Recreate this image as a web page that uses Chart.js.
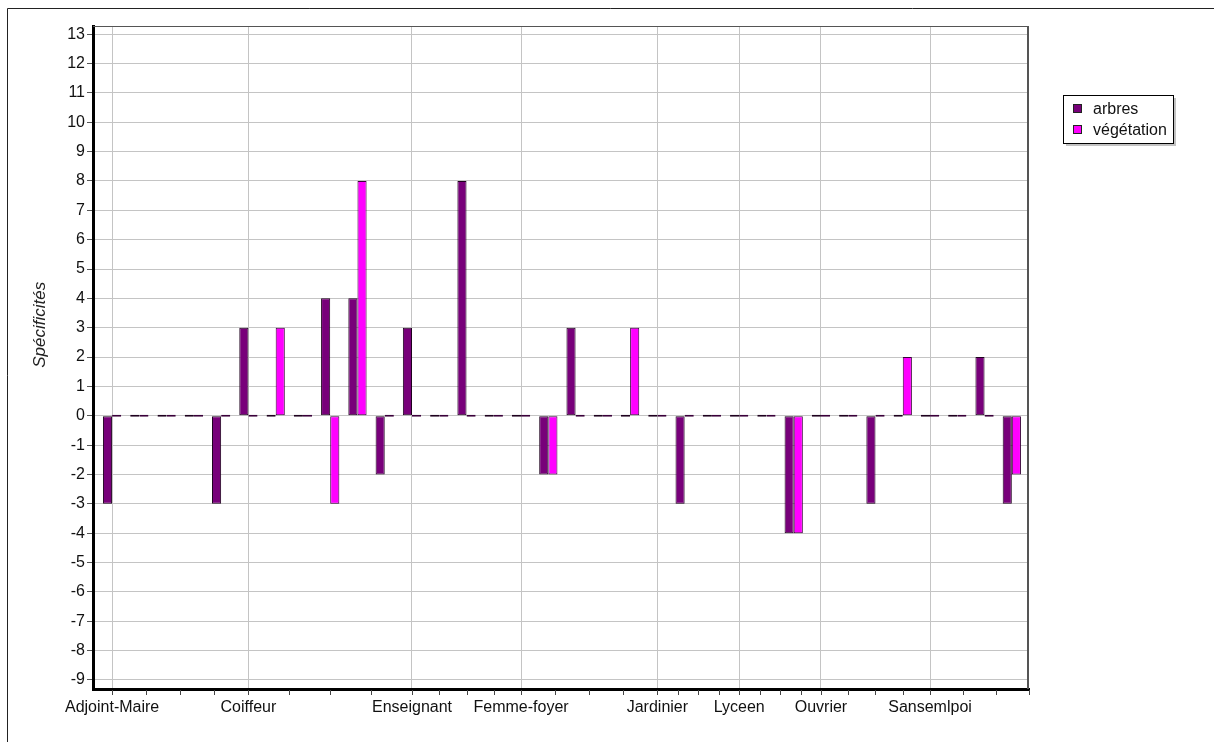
<!DOCTYPE html>
<html><head><meta charset="utf-8">
<script src="https://cdn.jsdelivr.net/npm/chart.js@4/dist/chart.umd.min.js"></script>
<style>html,body{margin:0;padding:0;background:#fff;}#wrap{position:relative;width:1214px;height:742px;}</style>
</head><body><div id="wrap"><canvas id="c" width="1214" height="742"></canvas></div>
<script>
const categories = ['Adjoint-Maire','','','','','Coiffeur','','','','','','Enseignant','','','','Femme-foyer','','','','','Jardinier','','','Lyceen','','','Ouvrier','','','','Sansemlpoi','','',''];
const arbres = [-3,0,0,0,-3,3,0,0,4,4,-2,3,0,8,0,0,-2,3,0,0,0,-3,0,0,0,-4,0,0,-3,0,0,0,2,-3];
const vegetation = [0,0,0,0,0,0,3,0,-3,8,0,0,0,0,0,0,-2,0,0,3,0,0,0,0,0,-4,0,0,0,2,0,0,0,-2];
const yTicks = [-9,-8,-7,-6,-5,-4,-3,-2,-1,0,1,2,3,4,5,6,7,8,9,10,11,12,13];
const seriesNames = ['arbres','végétation'];
const seriesColors = ['#78007a','#ff00ff'];
const yTitle = 'Spécificités';

const FONT = "'Liberation Sans', Arial, sans-serif";
const labeledIdx = categories.map((c,i)=>c? i : -1).filter(i=>i>=0);

const framePlugin = {
  id:'frame',
  beforeDraw(chart){
    const ctx = chart.ctx;
    ctx.save();
    ctx.strokeStyle = '#222'; ctx.lineWidth = 1;
    ctx.beginPath(); ctx.moveTo(7.5, 742); ctx.lineTo(7.5, 8.5); ctx.lineTo(1214, 8.5); ctx.stroke();
    ctx.restore();
  },
  afterDraw(chart){
    const ctx = chart.ctx, a = chart.chartArea, xs = chart.scales.x;
    ctx.save();
    ctx.strokeStyle = '#555'; ctx.lineWidth = 1;
    ctx.beginPath(); ctx.moveTo(a.left, a.top+0.5); ctx.lineTo(a.right, a.top+0.5); ctx.stroke();
    ctx.lineWidth = 2;
    ctx.beginPath(); ctx.moveTo(a.right-1, a.top); ctx.lineTo(a.right-1, a.bottom); ctx.stroke();
    const pos = labeledIdx.map(i=>xs.getPixelForValue(i));
    const marks = [];
    for (let k=0;k<pos.length-1;k++){ for (let q=0;q<4;q++) marks.push(pos[k]+(pos[k+1]-pos[k])*q/4); }
    const last = pos[pos.length-1];
    for (let q=0;q<=3;q++) marks.push(last+(a.right-last)*q/3);
    ctx.strokeStyle = '#444'; ctx.lineWidth = 1;
    marks.forEach(m=>{ const x=Math.round(m)+0.5; ctx.beginPath(); ctx.moveTo(x, a.bottom+1); ctx.lineTo(x, a.bottom+6); ctx.stroke(); });
    ctx.fillStyle = '#222'; ctx.font = 'italic 17px ' + FONT;
    ctx.translate(40, chart.scales.y.getPixelForValue(3.1));
    ctx.rotate(-Math.PI/2); ctx.textAlign='center'; ctx.textBaseline='middle';
    ctx.fillText(yTitle, 0, 0);
    ctx.setTransform(1,0,0,1,0,0);
    const lx=1063, ly=95, lw=110, lh=48;
    ctx.fillStyle='rgba(120,120,120,0.45)'; ctx.fillRect(lx+3, ly+3, lw, lh);
    ctx.fillStyle='#fff'; ctx.fillRect(lx, ly, lw, lh);
    ctx.strokeStyle='#000'; ctx.lineWidth=1; ctx.strokeRect(lx+0.5, ly+0.5, lw, lh);
    ctx.font = '16px ' + FONT; ctx.textBaseline='middle'; ctx.textAlign='left';
    chart.data.datasets.forEach((d,i)=>{
      const cy = ly + 14 + i*21;
      ctx.fillStyle = d.backgroundColor; ctx.fillRect(lx+10, cy-5, 9, 9);
      ctx.strokeStyle='#222'; ctx.strokeRect(lx+10.5, cy-4.5, 8, 8);
      ctx.fillStyle='#111'; ctx.fillText(d.label, lx+30, cy+1);
    });
    ctx.restore();
  }
};

new Chart(document.getElementById('c'), {
  type:'bar',
  data:{ datasets:[
    {label:seriesNames[0], data:arbres.map((v,i)=>({x:i,y:v})), backgroundColor:seriesColors[0], borderColor:'#1e001e', borderWidth:1, borderSkipped:false, inflateAmount:0},
    {label:seriesNames[1], data:vegetation.map((v,i)=>({x:i,y:v})), backgroundColor:seriesColors[1], borderColor:'#3a003a', borderWidth:1, borderSkipped:false, inflateAmount:0}
  ]},
  options:{
    responsive:false, animation:false,
    datasets:{bar:{categoryPercentage:0.67, barPercentage:1.0, minBarLength:2}},
    layout:{padding:{left:10, top:26, right:185, bottom:0}},
    plugins:{legend:{display:false}, tooltip:{enabled:false}},
    scales:{
      x:{ type:'linear', min:-0.7, max:33.63, offset:false,
        afterBuildTicks(s){ s.ticks = labeledIdx.map(v=>({value:v})); },
        afterFit(s){ s.height = 53; },
        ticks:{ autoSkip:false, maxRotation:0, padding:4, color:'#111', font:{family:FONT, size:16}, callback:(v)=>categories[v] || '' },
        grid:{ offset:false, color:'#c4c4c4', lineWidth:1, tickLength:5, tickColor:'rgba(0,0,0,0)' },
        border:{ color:'#000', width:3 }
      },
      y:{ min:-9.31, max:13.28,
        afterBuildTicks(s){ s.ticks = yTicks.map(v=>({value:v})); },
        afterFit(s){ s.width = 83; },
        ticks:{ padding:2, color:'#111', font:{family:FONT, size:16} },
        grid:{ color:'#c4c4c4', lineWidth:1, tickLength:6, tickColor:'#555' },
        border:{ color:'#000', width:3 }
      }
    }
  },
  plugins:[framePlugin]
});
</script></body></html>
